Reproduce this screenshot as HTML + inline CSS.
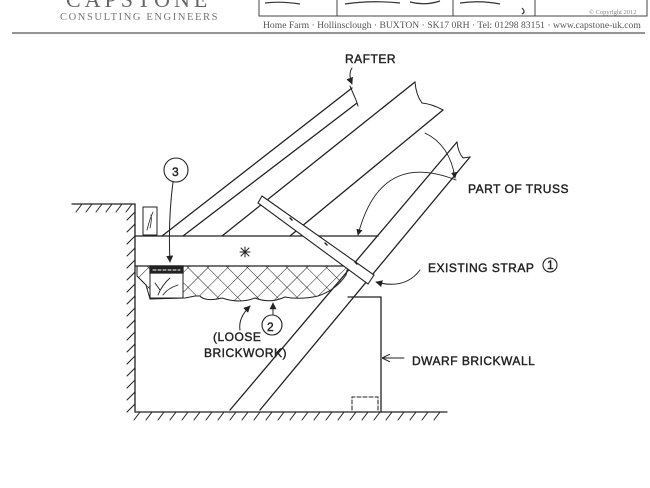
<!DOCTYPE html>
<html><head><meta charset="utf-8"><style>
html,body{margin:0;padding:0;background:#fff;}
svg{display:block;}
.h{font-family:"Liberation Sans",sans-serif;font-size:12px;fill:#222;stroke:#222;stroke-width:0.4;letter-spacing:0.5px;}
</style></head><body>
<svg width="650" height="488" viewBox="0 0 650 488" xmlns="http://www.w3.org/2000/svg">
<defs>
<pattern id="xh" width="14" height="14" patternUnits="userSpaceOnUse" patternTransform="rotate(45)">
<path d="M0 0V14M0 0H14" stroke="#222" stroke-width="1"/>
</pattern>
<marker id="ar" viewBox="0 0 10 10" refX="9" refY="5" markerWidth="7" markerHeight="7" orient="auto"><path d="M0 0L10 5L0 10z" fill="#222"/></marker>
<marker id="ao" viewBox="0 0 10 10" refX="9" refY="5" markerWidth="8" markerHeight="8" orient="auto"><path d="M0 0L10 5L0 10" fill="none" stroke="#222" stroke-width="1.3"/></marker>
</defs>
<!-- header -->
<text x="66" y="7" font-family="Liberation Serif,serif" font-size="22" fill="#666" letter-spacing="4">CAPSTONE</text>
<text x="60" y="20" font-family="Liberation Serif,serif" font-size="10.5" fill="#777" letter-spacing="1.6">CONSULTING ENGINEERS</text>
<path d="M259 0V16H647V0M337 0V16M453 0V16M535 0V16" fill="none" stroke="#444" stroke-width="1"/>
<path d="M265 3 Q280 1 300 4 M345 4 Q370 0 400 3 M410 2 Q425 6 440 1 M460 3 Q480 0 500 4 M522 8 Q526 12 522 14" fill="none" stroke="#333" stroke-width="1.2"/>
<text x="589" y="14" font-family="Liberation Serif,serif" font-size="6.5" fill="#888">© Copyright 2012</text>
<text x="263" y="28" font-family="Liberation Serif,serif" font-size="9.6" fill="#555">Home Farm · Hollinsclough · BUXTON · SK17 0RH · Tel: 01298 83151 · www.capstone-uk.com</text>
<line x1="12" y1="33" x2="645" y2="33" stroke="#555" stroke-width="1.2"/>

<g stroke="#222" stroke-width="1.3" fill="none" stroke-linecap="round">
<!-- crosshatch -->
<path d="M137 266H348 L346 275 Q336 290 318 296 Q300 300 285 297 Q270 304 255 298 Q240 304 222 298 Q205 302 200 296 L195 296 L185 298 L150 299 L146 285 L137 276Z" fill="url(#xh)" stroke-width="1"/>
<rect x="150" y="273" width="33" height="25" fill="#fff" stroke-width="1"/>
<path d="M158 295 Q162 285 170 278 M163 295 Q168 288 178 285 M160 290 L155 283" stroke-width="0.9"/>
<rect x="150" y="266" width="33" height="7" fill="#222"/>
<path d="M153 270H180" stroke="#fff" stroke-width="1" stroke-dasharray="3 2"/>
<!-- ground/walls -->
<path d="M72 204H135V412H447"/>
<path d="M76 212l6-8M86 212l6-8M96 212l6-8M106 212l6-8M116 212l6-8M126 212l6-8" stroke-width="1"/>
<g stroke-width="1">
<path d="M127 220l8-8M127 232l8-8M127 244l8-8M127 256l8-8M127 268l8-8M127 280l8-8M127 292l8-8M127 304l8-8M127 316l8-8M127 328l8-8M127 340l8-8M127 352l8-8M127 364l8-8M127 376l8-8M127 388l8-8M127 400l8-8M127 412l8-8"/>
<path d="M140 412l-6 8M152 412l-6 8M164 412l-6 8M176 412l-6 8M188 412l-6 8M200 412l-6 8M212 412l-6 8M224 412l-6 8M236 412l-6 8M248 412l-6 8M260 412l-6 8M272 412l-6 8M284 412l-6 8M296 412l-6 8M308 412l-6 8M320 412l-6 8M332 412l-6 8M344 412l-6 8M356 412l-6 8M368 412l-6 8M380 412l-6 8M392 412l-6 8M404 412l-6 8M416 412l-6 8M428 412l-6 8M440 412l-6 8"/>
</g>
<rect x="143" y="207" width="14" height="28" stroke-width="1"/>
<path d="M147 230 Q150 218 153 212 M150 228 Q152 220 151 215" stroke-width="0.8"/>
<!-- beam band -->
<path d="M135 236H378M135 266H350"/>
<path d="M240 252h10M245 247v10M241 248l8 8M249 248l-8 8" stroke-width="1"/>
<!-- rafters -->
<path d="M162 236L352 88M183 236L357 103M222 236L415 82M290 236L443 110"/>
<path d="M350 86 L356 100 L358 106" stroke-width="1"/>
<path d="M415 82 Q416 95 422 103 Q432 104 443 110" stroke-width="1"/>
<!-- truss -->
<path d="M230 410L457 142M260 410L470 157"/>
<path d="M457 142 Q458 152 463 158 L470 157" stroke-width="1"/>
<!-- strap -->
<path d="M262 196L374 275L368 284L258 203Z" fill="#fff" stroke-width="1.1"/>
<path d="M290 218l2 2M325 243l2 2M355 262l2 2" stroke-width="1.5"/>
<!-- dwarf wall -->
<path d="M348 297H381V412"/>
<path d="M352 410V397H378V410" stroke-width="1" stroke-dasharray="4 2"/>
<!-- callouts -->
<circle cx="176" cy="170" r="12" stroke-width="1.1"/>
<path d="M173 182 Q168 220 170 262" marker-end="url(#ar)" stroke-width="1"/>
<circle cx="272" cy="325" r="10" stroke-width="1.1"/>
<path d="M273 315V303" marker-end="url(#ar)" stroke-width="1"/>
<path d="M240 330 Q238 318 250 306" marker-end="url(#ar)" stroke-width="1"/>
<path d="M352 68 Q348 74 352 84" marker-end="url(#ar)" stroke-width="1"/>
<path d="M425 133 Q450 145 455 178" marker-end="url(#ar)" stroke-width="0.9"/>
<path d="M456 180 Q380 150 358 235" marker-end="url(#ar)" stroke-width="0.9"/>
<path d="M420 270 Q405 290 376 282" marker-end="url(#ar)" stroke-width="1"/>
<path d="M404 358H383" marker-end="url(#ao)" stroke-width="1"/>
</g>
<text x="345" y="63" class="h" font-size="12">RAFTER</text>
<text x="468" y="193" class="h" font-size="13">PART OF TRUSS</text>
<text x="428" y="272" class="h" font-size="13">EXISTING STRAP</text>
<circle cx="550" cy="265" r="7" fill="none" stroke="#222" stroke-width="1.1"/>
<text x="547" y="269" class="h" font-size="10">1</text>
<text x="172" y="176" class="h" font-size="14">3</text>
<text x="267" y="331" class="h" font-size="14">2</text>
<text x="412" y="365" class="h" font-size="13" letter-spacing="1">DWARF BRICKWALL</text>
<text x="213" y="341" class="h" font-size="10">(LOOSE</text>
<text x="204" y="357" class="h" font-size="10">BRICKWORK)</text>
</svg>
</body></html>
